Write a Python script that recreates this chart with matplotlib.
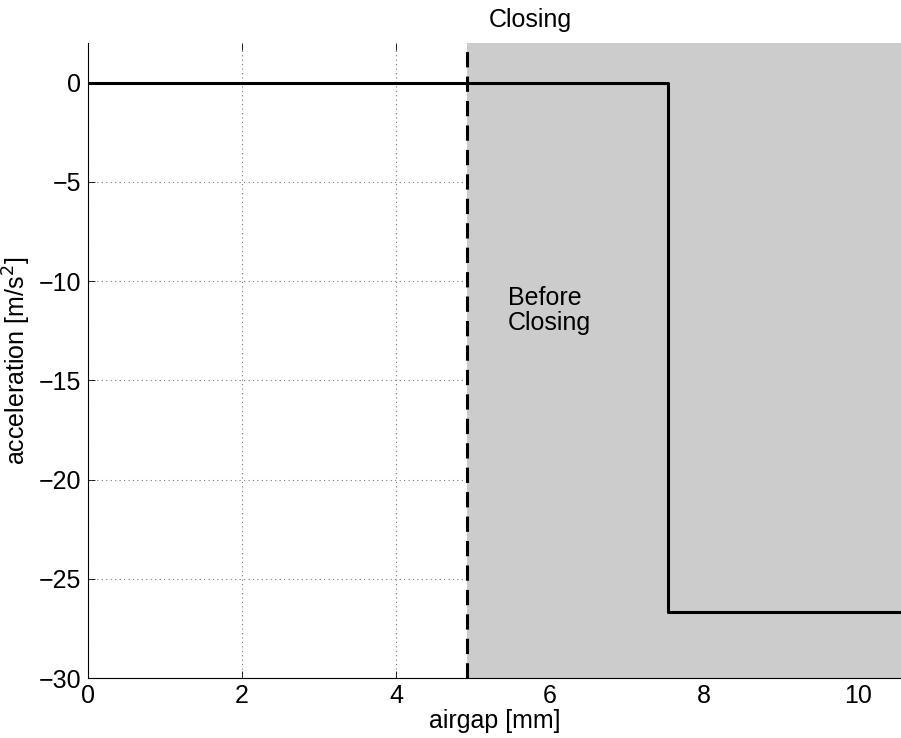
import numpy as np
import matplotlib.pyplot as plt

plt.rcParams['font.family'] = ['Liberation Sans', 'DejaVu Sans']
plt.rcParams['font.size'] = 18

# acceleration profile vs airgap
airgap = [0.0, 7.53, 7.53, 10.56]
accel = [0.0, 0.0, -26.67, -26.67]
x_closing = 4.92
x_max = 10.56

fig = plt.figure(figsize=(9.01, 7.38), dpi=100)
ax = fig.add_axes([88/901, 1 - 678/738, 1 - 88/901, (678 - 43)/738])

ax.axvspan(x_closing, x_max, color='#cccccc', zorder=1, lw=0)
ax.plot(airgap, accel, color='black', lw=2.2, zorder=3)
ax.axvline(x_closing, color='black', lw=2.2, ls=(0, (5, 3)), zorder=3)

ax.text(5.45, -11.5, "Before\nClosing", fontsize=18, va='center', ha='left',
        linespacing=1.05, zorder=4)
ax.text(5.74, 2.55, "Closing", fontsize=18, ha='center', va='bottom', clip_on=False)

ax.set_xlim(0, x_max)
ax.set_ylim(-30, 2)
ax.set_xticks([0, 2, 4, 6, 8, 10])
ax.set_yticks([-30, -25, -20, -15, -10, -5, 0])
ax.set_yticklabels(['\u221230', '\u221225', '\u221220', '\u221215', '\u221210', '\u22125', '0'])
ax.tick_params(direction='in', top=True, right=False, labelsize=18, length=5,
               width=0.6, pad=4)
ax.tick_params(axis='y', pad=5)
ax.grid(True, ls=(0, (1, 3)), color='#777777', lw=0.8, zorder=0)
ax.set_axisbelow(True)
ax.set_xlabel("airgap [mm]", fontsize=18, labelpad=1)
ax.set_ylabel("acceleration [m/s$^2$]", fontsize=18, labelpad=4)
ax.spines['top'].set_visible(False)
ax.spines['right'].set_visible(False)
for s in ax.spines.values():
    s.set_linewidth(0.8)
    s.set_zorder(5)

plt.savefig("out.png", dpi=100)
